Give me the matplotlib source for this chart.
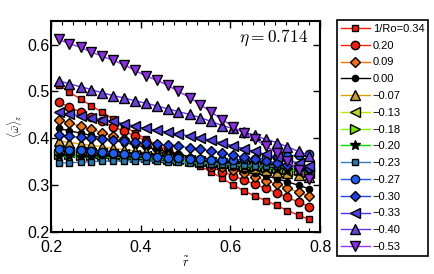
import matplotlib
matplotlib.use("Agg")
import matplotlib.pyplot as plt
from matplotlib.ticker import MultipleLocator

plt.rcParams["font.family"] = ["Liberation Sans", "DejaVu Sans"]
plt.rcParams["mathtext.fontset"] = "cm"

# radial positions (r tilde)
r_tilde = [0.217, 0.241, 0.266, 0.290, 0.314, 0.339, 0.363, 0.387, 0.411, 0.436,
           0.460, 0.484, 0.509, 0.533, 0.557, 0.582, 0.606, 0.630, 0.654, 0.679,
           0.703, 0.727, 0.752, 0.776]

labels = ["1/Ro=0.34", "0.20", "0.09", "0.00", "\u22120.07", "\u22120.13", "\u22120.18",
          "\u22120.20", "\u22120.23", "\u22120.27", "\u22120.30", "\u22120.33", "\u22120.40",
          "\u22120.53"]

w_p034 = [.514, .498, .484, .469, .456, .441, .426, .412, .399, .386, .374, .362,
          .351, .340, .328, .315, .300, .288, .277, .267, .257, .246, .236, .227]
w_p020 = [.477, .467, .456, .446, .436, .425, .415, .405, .395, .385, .375, .365,
          .356, .347, .338, .329, .320, .311, .302, .293, .284, .274, .264, .254]
w_p009 = [.440, .433, .426, .419, .412, .405, .398, .391, .384, .377, .371, .365,
          .359, .352, .346, .339, .332, .325, .318, .310, .302, .294, .285, .276]
w_000 = [.421, .416, .411, .406, .401, .396, .391, .386, .381, .376, .371, .366,
         .361, .356, .350, .344, .338, .332, .326, .320, .314, .307, .300, .292]
w_m007 = [.394, .391, .388, .385, .382, .379, .376, .373, .370, .367, .364, .361,
          .358, .355, .352, .349, .345, .341, .337, .333, .329, .325, .321, .317]
w_m013 = [.372, .371, .370, .369, .368, .367, .366, .364, .362, .360, .358, .356,
          .354, .352, .350, .348, .346, .343, .340, .337, .334, .331, .328, .325]
w_m018 = [.366, .366, .365, .365, .364, .363, .362, .361, .360, .358, .356, .354,
          .352, .350, .348, .346, .344, .342, .340, .338, .336, .334, .332, .330]
w_m020 = [.362, .362, .361, .361, .360, .360, .359, .358, .357, .356, .354, .352,
          .350, .349, .347, .345, .343, .341, .339, .337, .335, .333, .331, .329]
w_m023 = [.347, .348, .349, .350, .351, .352, .352, .352, .352, .351, .350, .349,
          .348, .347, .346, .345, .344, .343, .342, .341, .340, .339, .338, .337]
w_m027 = [.378, .376, .374, .372, .370, .368, .366, .364, .362, .360, .358, .357,
          .356, .355, .354, .354, .354, .355, .356, .358, .360, .362, .364, .366]
w_m030 = [.406, .404, .402, .400, .398, .396, .394, .392, .389, .387, .385, .383,
          .380, .377, .373, .369, .364, .360, .356, .352, .348, .344, .340, .336]
w_m033 = [.456, .452, .448, .444, .440, .436, .431, .426, .421, .417, .413, .409,
          .405, .401, .396, .390, .384, .378, .372, .366, .360, .354, .347, .340]
w_m040 = [.523, .516, .510, .504, .497, .491, .486, .480, .475, .469, .463, .457,
          .451, .444, .436, .427, .421, .414, .406, .398, .391, .382, .372, .363]
w_m053 = [.611, .602, .594, .584, .575, .566, .557, .545, .533, .524, .513, .500,
          .487, .472, .456, .440, .425, .411, .398, .384, .369, .352, .333, .313]

series = [w_p034, w_p020, w_p009, w_000, w_m007, w_m013, w_m018,
          w_m020, w_m023, w_m027, w_m030, w_m033, w_m040, w_m053]

line_colors = ["#ff1a00", "#ff2200", "#ff7000", "#000000", "#d9a400", "#c8e000", "#80ff00",
               "#00e000", "#2f7fbf", "#1a55ff", "#2244ff", "#4433ff", "#6633ee", "#9933ff"]
face_colors = ["#ee1c14", "#f02010", "#e8701c", "#000000", "#c89a30", "#c0d820", "#78e800",
               "#000000", "#2a7ab0", "#2060f0", "#2040e0", "#5040e0", "#6a40d8", "#8a30e0"]
markers = ["s", "o", "D", "o", "^", "<", ">", "*", "s", "o", "D", "<", "^", "v"]
sizes = [5.0, 6.0, 5.0, 4.5, 6.5, 6.5, 6.5, 7.5, 5.0, 6.0, 5.0, 6.5, 6.5, 6.5]


def main():
  fig = plt.figure(figsize=(4.34, 2.74), dpi=100)
  ax = fig.add_axes([0.1175, 0.153, 0.62, 0.77])

  for vals, lab, lc, fc, mk, ms in zip(series, labels, line_colors, face_colors,
                                       markers, sizes):
    ax.plot(r_tilde, vals, color=lc, lw=1.0, marker=mk, ms=ms, mfc=fc,
            mec="black", mew=1.0, label=lab)

  ax.set_xlim(0.2, 0.8)
  ax.set_ylim(0.2, 0.65)
  ax.xaxis.set_major_locator(MultipleLocator(0.2))
  ax.xaxis.set_minor_locator(MultipleLocator(0.025))
  ax.yaxis.set_major_locator(MultipleLocator(0.1))
  ax.tick_params(which="both", direction="in", top=True, right=True, labelsize=11.5)
  ax.tick_params(axis="y", pad=1)
  ax.tick_params(axis="x", pad=6)
  ax.tick_params(which="major", length=5, width=1)
  ax.tick_params(which="minor", length=3, width=0.8)
  for sp in ax.spines.values():
    sp.set_linewidth(1.5)

  ax.set_xlabel(r"$\tilde{r}$", fontsize=9, labelpad=0)
  ax.set_ylabel(r"$\langle\bar{\omega}\rangle_z$", fontsize=8, labelpad=2)
  ax.text(0.955, 0.92, r"$\eta = 0.714$", transform=ax.transAxes, ha="right",
          va="center", fontsize=12.5)

  leg = fig.legend(loc="upper left", bbox_to_anchor=(0.776, 0.927), fontsize=8,
                   handlelength=2.6, handletextpad=0.3, labelspacing=0.61,
                   borderpad=0.35, fancybox=False, edgecolor="black",
                   framealpha=1, borderaxespad=0)
  leg.get_frame().set_linewidth(1.2)

  fig.savefig("out.png", dpi=100)


if __name__ == "__main__":
  main()
